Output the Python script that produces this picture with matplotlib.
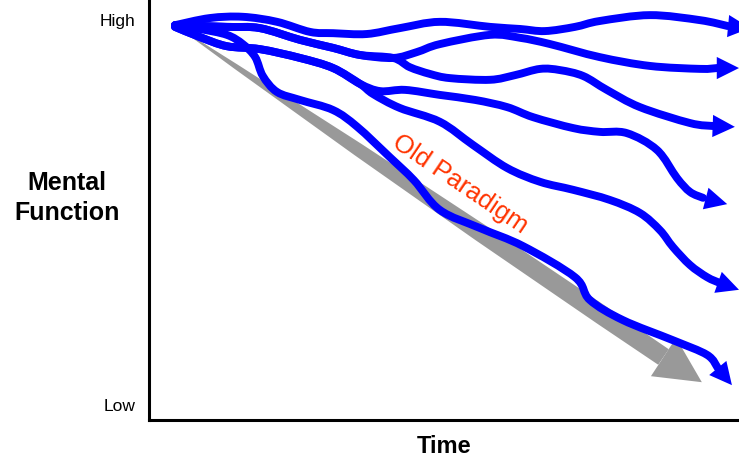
import matplotlib
matplotlib.use("Agg")
import matplotlib.pyplot as plt
import numpy as np
from matplotlib.path import Path
from matplotlib.patches import PathPatch, FancyArrowPatch

plt.rcParams['font.family'] = ['Liberation Sans', 'DejaVu Sans']

# Paths of the blue curves (time, mental function), last point is the arrow tip
curve_a_x = [4.4, 10.3, 15.9, 21.7, 27.3, 31.2, 36.9, 42.5, 49.3, 57.8, 62.9, 67.1, 72.2, 76.4, 84.9, 93.4, 98.1, 101.9]
curve_a_y = [94.0, 95.7, 96.0, 94.8, 92.4, 92.1, 91.9, 93.3, 94.8, 93.6, 93.1, 92.6, 93.6, 95.0, 96.4, 95.2, 93.8, 93.3]

curve_b1_x = [4.4, 13.2, 18.8, 25.6, 31.2, 35.8, 41.4, 45.4, 49.3, 57.8, 62.9, 68.0, 76.4, 84.9, 93.4, 96.3, 100.0]
curve_b1_y = [94.0, 93.6, 93.3, 90.5, 88.6, 86.9, 86.2, 87.6, 89.5, 91.7, 91.0, 89.5, 86.4, 84.3, 83.6, 83.8, 83.8]

curve_b2_x = [4.4, 13.2, 18.8, 25.6, 31.2, 35.8, 41.4, 44.2, 47.6, 51.0, 57.8, 62.0, 66.3, 69.7, 73.6, 77.6, 83.2, 91.7, 95.6, 99.3]
curve_b2_y = [94.0, 93.6, 93.3, 90.5, 88.6, 86.9, 86.2, 84.0, 82.4, 81.4, 81.0, 82.1, 83.6, 83.3, 81.9, 78.6, 74.5, 70.7, 70.0, 69.8]

curve_c1_x = [4.4, 8.6, 13.2, 18.8, 25.6, 31.2, 35.8, 39.2, 43.4, 49.3, 55.3, 60.7, 65.1, 71.9, 76.4, 81.0, 86.1, 89.5, 91.7, 93.9, 98.0]
curve_c1_y = [93.6, 91.2, 89.0, 88.3, 86.2, 83.8, 80.0, 78.3, 78.6, 77.4, 76.2, 74.5, 72.1, 69.5, 68.6, 68.3, 64.3, 57.6, 54.3, 52.9, 51.4]

curve_c2_x = [4.4, 8.6, 13.2, 18.8, 25.6, 31.2, 35.8, 38.0, 42.5, 49.3, 54.9, 60.7, 66.3, 71.9, 78.1, 83.2, 86.6, 88.8, 91.7, 94.6, 96.8, 100.0]
curve_c2_y = [93.6, 91.2, 89.0, 88.3, 86.2, 83.8, 80.0, 77.6, 74.3, 71.0, 65.5, 60.0, 56.7, 54.8, 52.4, 49.3, 45.2, 41.2, 36.9, 34.0, 32.6, 31.0]

curve_d_x = [4.4, 8.6, 13.2, 15.9, 18.0, 19.3, 21.7, 25.6, 31.2, 35.3, 40.8, 44.9, 49.3, 56.1, 63.4, 72.2, 74.7, 80.3, 88.8, 94.6, 96.4, 98.8]
curve_d_y = [94.0, 93.1, 91.7, 89.5, 86.4, 81.9, 78.1, 76.2, 73.8, 69.8, 62.6, 57.1, 50.0, 45.7, 41.4, 34.0, 28.6, 23.8, 19.0, 15.5, 12.4, 8.3]

curves = [(curve_a_x, curve_a_y), (curve_b1_x, curve_b1_y), (curve_b2_x, curve_b2_y),
          (curve_c1_x, curve_c1_y), (curve_c2_x, curve_c2_y), (curve_d_x, curve_d_y)]

# Old paradigm: straight decline (start, head base, tip)
old_x = [4.4, 87.2, 93.7]
old_y = [94.0, 15.0, 9.0]

tick_pos = [95.2, 3.6]
tick_labels = ['High', 'Low']


def smooth_path(xs, ys):
    # Catmull-Rom control points, drawn as cubic Bezier segments
    pts = np.column_stack([xs, ys])
    verts = [pts[0]]
    codes = [Path.MOVETO]
    n = len(pts)
    for i in range(n - 1):
        p0 = pts[max(i - 1, 0)]
        p1 = pts[i]
        p2 = pts[i + 1]
        p3 = pts[min(i + 2, n - 1)]
        verts += [p1 + (p2 - p0) / 6.0, p2 - (p3 - p1) / 6.0, p2]
        codes += [Path.CURVE4] * 3
    return Path(verts, codes)


fig = plt.figure(figsize=(7.39, 4.62), dpi=100)
ax = fig.add_axes([149 / 739, 42 / 462, 590 / 739, 420 / 462])

# Gray arrow: tapered shaft plus triangular head
shaft = FancyArrowPatch((old_x[1], old_y[1]), (old_x[0], old_y[0]),
                        arrowstyle='wedge,tail_width=13.5,shrink_factor=0.85',
                        mutation_scale=1, color='#999999', lw=0,
                        shrinkA=0, shrinkB=0, zorder=1)
ax.add_patch(shaft)
ghead = FancyArrowPatch((old_x[1], old_y[1]), (old_x[2], old_y[2]),
                        arrowstyle='-|>,head_length=33,head_width=16.5',
                        mutation_scale=1, color='#999999', lw=0,
                        shrinkA=0, shrinkB=0, zorder=1)
ax.add_patch(ghead)

ax.text(52.7, 56.2, 'Old Paradigm', color='#ff3300', fontsize=18.5,
        rotation=-34, rotation_mode='anchor', ha='center', va='center', zorder=2)

# Blue curves with arrow heads
for xs, ys in curves:
    line = PathPatch(smooth_path(xs[:-1], ys[:-1]), fill=False, edgecolor='#0000ff',
                     lw=5.7, capstyle='round', joinstyle='round', zorder=3, clip_on=False)
    ax.add_patch(line)
    head = FancyArrowPatch((xs[-2], ys[-2]), (xs[-1], ys[-1]),
                           arrowstyle='-|>,head_length=16,head_width=8',
                           mutation_scale=1, color='#0000ff', lw=0,
                           shrinkA=0, shrinkB=0, zorder=3, clip_on=False)
    ax.add_patch(head)

ax.set_xlim(0, 100)
ax.set_ylim(0, 100)
ax.set_xticks([])
ax.set_yticks(tick_pos)
ax.set_yticklabels(tick_labels, fontsize=12.5)
ax.tick_params(axis='y', length=0, pad=10)
for side in ['top', 'right']:
    ax.spines[side].set_visible(False)
for side in ['left', 'bottom']:
    ax.spines[side].set_linewidth(2.2)
    ax.spines[side].set_color('black')

ax.set_xlabel('Time', fontsize=17, fontweight='bold', labelpad=11)
fig.text(67 / 739, 1 - 198 / 462, 'Mental\nFunction', fontsize=18, fontweight='bold',
         ha='center', va='center', linespacing=1.3)

fig.savefig('out.png', dpi=100)
